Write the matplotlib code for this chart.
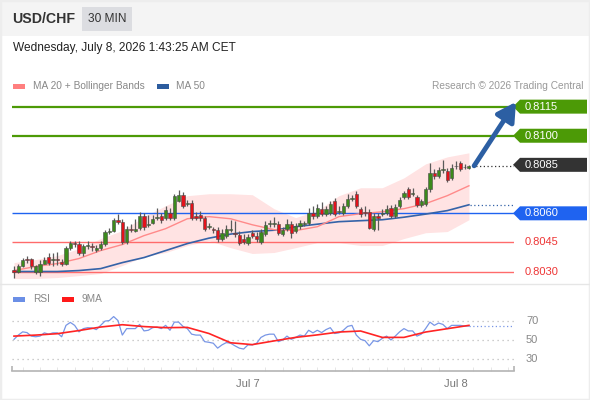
import matplotlib
matplotlib.use("Agg")
import matplotlib.pyplot as plt
import matplotlib.transforms as mtransforms
from matplotlib.lines import Line2D
from matplotlib.patches import Polygon, Rectangle

plt.rcParams["font.family"] = ["Liberation Sans", "DejaVu Sans"]

# ---- chart data (30 min candles, USD/CHF) ----
pair = "USD/CHF"
timeframe = "30 MIN"
stamp = "Wednesday, July 8, 2026 1:43:25 AM CET"
credit = "Research \u00a9 2026 Trading Central"

opens = [
    0.80310, 0.80300, 0.80331, 0.80362, 0.80362, 0.80295, 0.80295, 0.80341, 0.80377, 0.80359,
    0.80362, 0.80351, 0.80341, 0.80423, 0.80449, 0.80444, 0.80393, 0.80434, 0.80434, 0.80413,
    0.80423, 0.80444, 0.80506, 0.80511, 0.80567, 0.80557, 0.80454, 0.80521, 0.80511, 0.80526,
    0.80588, 0.80541, 0.80552, 0.80578, 0.80588, 0.80578, 0.80603, 0.80578, 0.80665, 0.80696,
    0.80650, 0.80655, 0.80588, 0.80593, 0.80578, 0.80531, 0.80521, 0.80516, 0.80470, 0.80485,
    0.80516, 0.80495, 0.80490, 0.80470, 0.80449, 0.80500, 0.80485, 0.80454, 0.80495, 0.80544,
    0.80547, 0.80547, 0.80495, 0.80521, 0.80547, 0.80511, 0.80536, 0.80547, 0.80552, 0.80603,
    0.80588, 0.80624, 0.80598, 0.80603, 0.80665, 0.80608, 0.80603, 0.80639, 0.80675, 0.80701,
    0.80624, 0.80603, 0.80608, 0.80521, 0.80588, 0.80598, 0.80603, 0.80629, 0.80588, 0.80639,
    0.80686, 0.80727, 0.80701, 0.80686, 0.80644, 0.80650, 0.80727, 0.80809, 0.80793, 0.80822,
    0.80819, 0.80783, 0.80842, 0.80860, 0.80837, 0.80834,
]
closes = [
    0.80300, 0.80331, 0.80357, 0.80357, 0.80331, 0.80326, 0.80341, 0.80357, 0.80346, 0.80362,
    0.80359, 0.80341, 0.80423, 0.80449, 0.80441, 0.80398, 0.80434, 0.80439, 0.80429, 0.80423,
    0.80444, 0.80506, 0.80511, 0.80567, 0.80557, 0.80454, 0.80521, 0.80516, 0.80521, 0.80588,
    0.80531, 0.80547, 0.80572, 0.80583, 0.80567, 0.80619, 0.80578, 0.80691, 0.80696, 0.80639,
    0.80655, 0.80578, 0.80578, 0.80578, 0.80521, 0.80536, 0.80516, 0.80470, 0.80500, 0.80521,
    0.80521, 0.80493, 0.80449, 0.80454, 0.80480, 0.80485, 0.80470, 0.80506, 0.80542, 0.80547,
    0.80549, 0.80500, 0.80516, 0.80547, 0.80500, 0.80536, 0.80552, 0.80552, 0.80603, 0.80588,
    0.80629, 0.80598, 0.80624, 0.80650, 0.80598, 0.80614, 0.80639, 0.80675, 0.80680, 0.80639,
    0.80598, 0.80601, 0.80526, 0.80588, 0.80578, 0.80603, 0.80624, 0.80588, 0.80634, 0.80670,
    0.80706, 0.80686, 0.80706, 0.80644, 0.80665, 0.80727, 0.80809, 0.80793, 0.80824, 0.80824,
    0.80773, 0.80834, 0.80845, 0.80829, 0.80840, 0.80845,
]
highs = [
    0.80326, 0.80341, 0.80372, 0.80382, 0.80372, 0.80336, 0.80357, 0.80377, 0.80393, 0.80393,
    0.80403, 0.80362, 0.80434, 0.80459, 0.80459, 0.80459, 0.80444, 0.80459, 0.80449, 0.80439,
    0.80459, 0.80516, 0.80526, 0.80578, 0.80598, 0.80572, 0.80536, 0.80547, 0.80572, 0.80608,
    0.80603, 0.80593, 0.80593, 0.80629, 0.80603, 0.80639, 0.80629, 0.80701, 0.80721, 0.80711,
    0.80670, 0.80670, 0.80608, 0.80614, 0.80588, 0.80552, 0.80531, 0.80531, 0.80521, 0.80542,
    0.80567, 0.80562, 0.80511, 0.80495, 0.80495, 0.80516, 0.80506, 0.80521, 0.80562, 0.80567,
    0.80583, 0.80562, 0.80531, 0.80572, 0.80562, 0.80552, 0.80567, 0.80562, 0.80629, 0.80639,
    0.80650, 0.80660, 0.80639, 0.80665, 0.80680, 0.80639, 0.80655, 0.80701, 0.80696, 0.80716,
    0.80634, 0.80639, 0.80624, 0.80603, 0.80603, 0.80624, 0.80644, 0.80644, 0.80650, 0.80686,
    0.80716, 0.80737, 0.80732, 0.80696, 0.80675, 0.80737, 0.80860, 0.80829, 0.80840, 0.80876,
    0.80834, 0.80855, 0.80871, 0.80871, 0.80855, 0.80850,
]
lows = [
    0.80269, 0.80290, 0.80321, 0.80346, 0.80315, 0.80285, 0.80279, 0.80341, 0.80336, 0.80331,
    0.80336, 0.80331, 0.80336, 0.80413, 0.80429, 0.80387, 0.80382, 0.80418, 0.80408, 0.80403,
    0.80413, 0.80434, 0.80495, 0.80506, 0.80547, 0.80444, 0.80444, 0.80506, 0.80506, 0.80516,
    0.80516, 0.80531, 0.80547, 0.80567, 0.80552, 0.80567, 0.80567, 0.80567, 0.80660, 0.80629,
    0.80639, 0.80567, 0.80567, 0.80562, 0.80511, 0.80521, 0.80500, 0.80454, 0.80459, 0.80475,
    0.80506, 0.80480, 0.80439, 0.80444, 0.80439, 0.80475, 0.80454, 0.80444, 0.80485, 0.80531,
    0.80531, 0.80490, 0.80485, 0.80511, 0.80475, 0.80500, 0.80521, 0.80536, 0.80542, 0.80572,
    0.80578, 0.80588, 0.80588, 0.80593, 0.80588, 0.80598, 0.80593, 0.80629, 0.80665, 0.80629,
    0.80583, 0.80588, 0.80521, 0.80511, 0.80516, 0.80588, 0.80593, 0.80578, 0.80578, 0.80629,
    0.80675, 0.80675, 0.80691, 0.80634, 0.80634, 0.80639, 0.80711, 0.80778, 0.80783, 0.80809,
    0.80763, 0.80773, 0.80829, 0.80819, 0.80829, 0.80829,
]

# indicators read every 5 candles
ma_steps = list(range(0, 106, 5))
ma20 = [0.80305, 0.80326, 0.80341, 0.80367, 0.80408, 0.80439, 0.80485, 0.80521, 0.80572, 0.80583, 0.80572,
        0.80541, 0.80516, 0.80511, 0.80531, 0.80583, 0.80598, 0.80608, 0.80624, 0.80650, 0.80691, 0.80742]
bb_upper = [0.80346, 0.80362, 0.80382, 0.80418, 0.80470, 0.80511, 0.80583, 0.80639, 0.80691, 0.80701, 0.80701,
            0.80696, 0.80624, 0.80578, 0.80614, 0.80691, 0.80732, 0.80732, 0.80783, 0.80855, 0.80891, 0.80912]
bb_lower = [0.80264, 0.80264, 0.80269, 0.80279, 0.80290, 0.80331, 0.80377, 0.80398, 0.80434, 0.80459, 0.80423,
            0.80393, 0.80398, 0.80423, 0.80449, 0.80449, 0.80434, 0.80434, 0.80470, 0.80500, 0.80506, 0.80567]
ma50 = [0.80300, 0.80300, 0.80300, 0.80305, 0.80315, 0.80346, 0.80372, 0.80408, 0.80444, 0.80472, 0.80493,
        0.80506, 0.80513, 0.80531, 0.80544, 0.80557, 0.80562, 0.80567, 0.80580, 0.80596, 0.80614, 0.80644]

rsi = [
    50.7, 55.3, 58.8, 58.0, 54.2, 53.5, 54.2, 57.7, 56.3, 57.7,
    57.7, 53.5, 65.8, 69.0, 65.8, 58.8, 62.3, 63.3, 63.0, 61.2,
    65.8, 70.4, 71.0, 75.3, 71.0, 55.3, 62.3, 62.3, 62.3, 66.8,
    59.8, 60.5, 63.3, 64.0, 62.3, 65.8, 60.5, 69.3, 69.3, 64.7,
    62.3, 56.3, 55.3, 55.3, 48.2, 47.5, 46.5, 41.2, 44.7, 47.2,
    46.5, 43.7, 41.2, 40.2, 44.7, 44.7, 46.5, 52.8, 55.3, 56.3,
    56.3, 48.2, 50.0, 54.2, 50.7, 52.8, 55.3, 54.2, 60.5, 57.7,
    60.5, 58.0, 61.2, 63.3, 57.0, 57.7, 60.5, 64.7, 65.8, 55.3,
    50.7, 49.3, 43.7, 49.3, 48.2, 51.8, 54.2, 50.0, 54.2, 58.8,
    62.3, 59.8, 59.8, 54.2, 56.3, 62.3, 69.3, 65.8, 68.3, 66.8,
    62.3, 65.8, 65.8, 65.8, 65.1, 65.1,
]
rsi_ma9 = [54.2, 55.3, 56.8, 60.2, 64.0, 66.5, 64.5, 63.3, 63.6, 57.0, 47.0,
           45.0, 49.0, 52.8, 55.5, 58.6, 59.7, 52.8, 52.8, 58.6, 62.2, 65.8]
rsi_levels = [70, 50, 30]

levels = [0.8115, 0.8100, 0.8085, 0.8060, 0.8045, 0.8030]
level_kinds = ["target", "target", "last", "pivot", "support", "support"]

day_labels = ["Jul 7", "Jul 8"]
day_candles = [54, 102]

# ---- layout ----
W, H = 590, 400
GREEN = "#4c9a06"
BLUE_LVL = "#1f63f0"
RED_LVL = "#ff6b6b"
MA50_C = "#3563a8"
MA20_C = "#ff8a8a"
RSI_C = "#7896e6"
SMALL = 7.3


def fx(px):
    return px / W


def fy(py):
    return 1 - py / H


fig = plt.figure(figsize=(W / 100, H / 100), dpi=100)
fig.patch.set_facecolor("white")

# header band
fig.add_artist(Rectangle((0, fy(36)), 1, 36 / H, transform=fig.transFigure,
                         facecolor="#f4f4f4", edgecolor="none", zorder=0))
fig.text(fx(12), fy(19), pair, fontsize=10.2, fontweight="bold", color="#333333", va="center")
fig.add_artist(Rectangle((fx(82), fy(31)), 50 / W, 24 / H, transform=fig.transFigure,
                         facecolor="#dcdde1", edgecolor="none", zorder=1))
fig.text(fx(107), fy(19), timeframe, fontsize=8.6, color="#333333", ha="center", va="center", zorder=2)
fig.text(fx(13), fy(48), stamp, fontsize=8.6, color="#222222", va="center")

# legend row
fig.add_artist(Rectangle((fx(13), fy(88.5)), 12 / W, 5 / H, transform=fig.transFigure,
                         facecolor="#ff7f7f", edgecolor="none"))
fig.text(fx(33), fy(86), "MA 20 + Bollinger Bands", fontsize=SMALL, color="#888888", va="center")
fig.add_artist(Rectangle((fx(157), fy(88.5)), 12 / W, 5 / H, transform=fig.transFigure,
                         facecolor="#2c5c9e", edgecolor="none"))
fig.text(fx(176), fy(86), "MA 50", fontsize=SMALL, color="#888888", va="center")
fig.text(fx(584), fy(86), credit, fontsize=SMALL, color="#999999", va="center", ha="right")

# ---- price panel ----
top_px, bot_px, left_px, right_px = 95, 282, 12, 514
ax = fig.add_axes([fx(left_px), fy(bot_px), (right_px - left_px) / W, (bot_px - top_px) / H])
price_lo, price_hi = 0.80246, 0.81210
x_lo, x_hi = -0.46, 115.4
ax.set_ylim(price_lo, price_hi)
ax.set_xlim(x_lo, x_hi)
ax.axis("off")
per_px = (price_hi - price_lo) / (bot_px - top_px)

ax.fill_between(ma_steps, bb_lower, bb_upper, color="#ffe3e3", lw=0, zorder=1)

for lv, kind in zip(levels, level_kinds):
    if kind == "target":
        ax.hlines(lv, x_lo, x_hi, colors=GREEN, lw=1.6, zorder=2)
    elif kind == "pivot":
        ax.hlines(lv, x_lo, x_hi, colors=BLUE_LVL, lw=1.0, zorder=2)
    elif kind == "support":
        ax.hlines(lv, x_lo, x_hi, colors=RED_LVL, lw=1.0, zorder=2)

ax.plot(ma_steps, ma50, color=MA50_C, lw=1.2, zorder=2.5)
ax.plot(ma_steps, ma20, color=MA20_C, lw=1.0, zorder=2.5)

n = len(closes)
for i in range(n):
    o, h, l, c = opens[i], highs[i], lows[i], closes[i]
    col = "#3c8a1c" if c >= o else "#e3121b"
    ax.vlines(i, l, h, colors="#5a5a5a", lw=0.9, zorder=3)
    body = max(abs(c - o), per_px * 0.8)
    ax.add_patch(Rectangle((i - 0.36, min(o, c)), 0.72, body, facecolor=col,
                           edgecolor="#4a4a4a", lw=0.4, zorder=4))

# dotted extensions to the label column
ax.hlines(closes[-1], n - 0.4, x_hi, colors="#333333", linestyles=(0, (1, 2)), lw=0.9, zorder=2)
ax.hlines(ma50[-1], ma_steps[-1] + 0.3, x_hi, colors=MA50_C, linestyles=(0, (1, 2)), lw=0.9, zorder=2)

# projected move arrow
ax.annotate("", xy=(x_hi + 0.45, levels[0] + 0.00024), xytext=(n + 0.2, closes[-1]),
            arrowprops=dict(arrowstyle="-|>,head_length=0.8,head_width=0.45", color="#2c5fa3",
                            lw=3.5, mutation_scale=14, shrinkA=0, shrinkB=0, clip_on=False),
            annotation_clip=False, zorder=6)

# level labels
blend = mtransforms.blended_transform_factory(fig.transFigure, ax.transData)
half = 7 * per_px
box_colors = {"target": GREEN, "last": "#333333", "pivot": BLUE_LVL}
for lv, kind in zip(levels, level_kinds):
    if kind in box_colors:
        pts = [(fx(513), lv), (fx(520), lv + half), (fx(587), lv + half),
               (fx(587), lv - half), (fx(520), lv - half)]
        ax.add_patch(Polygon(pts, closed=True, transform=blend, facecolor=box_colors[kind],
                             edgecolor="none", clip_on=False, zorder=5))
        ax.text(fx(525), lv, f"{lv:.4f}", transform=blend, color="white", fontsize=8,
                va="center", ha="left", clip_on=False, zorder=6)
    else:
        ax.text(fx(525), lv, f"{lv:.4f}", transform=blend, color="#ee3535", fontsize=8,
                va="center", ha="left", clip_on=False, zorder=6)

# separators and frame
fig.add_artist(Line2D([0, 1], [fy(284), fy(284)], transform=fig.transFigure, color="#e6e6e6", lw=1))
fig.add_artist(Rectangle((0, 0), 1, 1, transform=fig.transFigure, fill=False,
                         edgecolor="#ededed", lw=2.5))

# ---- RSI panel ----
fig.add_artist(Rectangle((fx(13), fy(301.5)), 12 / W, 5 / H, transform=fig.transFigure,
                         facecolor="#6b8fe6", edgecolor="none"))
fig.text(fx(33), fy(299), "RSI", fontsize=SMALL, color="#888888", va="center")
fig.add_artist(Rectangle((fx(62), fy(301.5)), 12 / W, 5 / H, transform=fig.transFigure,
                         facecolor="#ff1a1a", edgecolor="none"))
fig.text(fx(82), fy(299), "9MA", fontsize=SMALL, color="#888888", va="center")

rax = fig.add_axes([fx(left_px), fy(371), (right_px - left_px) / W, (371 - 305) / H])
rsi_lo, rsi_hi = 16.5, 87.8
rax.set_ylim(rsi_lo, rsi_hi)
rax.set_xlim(x_lo, x_hi)
rax.patch.set_alpha(0)
for side in ["top", "left", "right"]:
    rax.spines[side].set_visible(False)
rax.spines["bottom"].set_color("#b4b4b4")
rax.spines["bottom"].set_linewidth(1.2)

rax.hlines(rsi_levels, x_lo, x_hi, colors="#bdbdbd", linestyles=(0, (1, 3)), lw=0.9)
rblend = mtransforms.blended_transform_factory(fig.transFigure, rax.transData)
for v in rsi_levels:
    rax.text(fx(526), v, str(v), transform=rblend, color="#888888", fontsize=8,
             va="center", ha="left", clip_on=False)

rax.plot(range(n), rsi, color=RSI_C, lw=0.9, zorder=3)
rax.plot(ma_steps, rsi_ma9, color="#ff2424", lw=1.2, zorder=4)
rax.hlines(rsi[-1], n - 1, x_hi, colors=RSI_C, linestyles=(0, (1, 2)), lw=0.9)

rax.set_yticks([])
rax.set_xticks(day_candles)
rax.set_xticklabels(day_labels)
rax.set_xticks(list(range(day_candles[0] % 4, int(x_hi), 4)), minor=True)
rax.tick_params(axis="x", which="major", length=0, pad=6, labelsize=8, labelcolor="#777777")
rax.tick_params(axis="x", which="minor", length=3, direction="in", color="#e2e2e2")
rax.vlines([x_lo, x_hi], rsi_lo, rsi_lo + 5.5, colors="#b4b4b4", lw=1.2, clip_on=False)

fig.savefig("out.png", dpi=100)
